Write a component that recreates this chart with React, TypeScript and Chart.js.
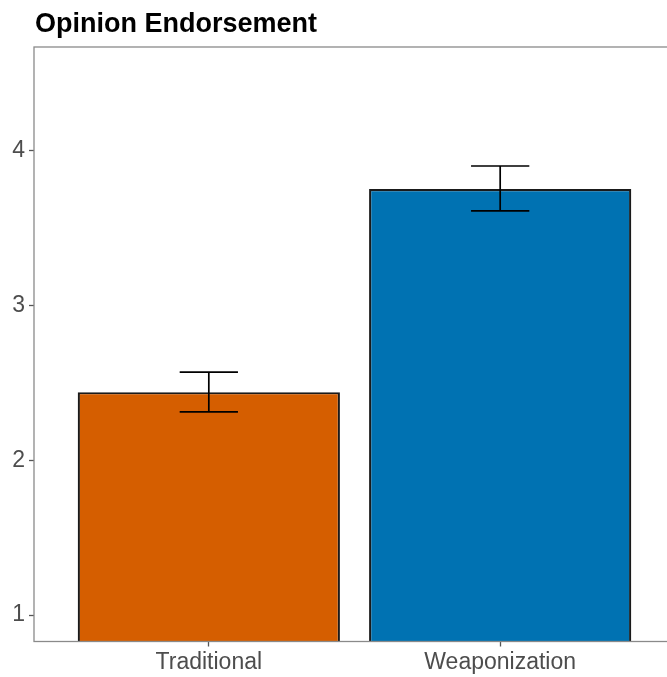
import React, { useEffect, useRef } from "react";
import { Chart, registerables } from "chart.js";

Chart.register(...registerables);

// Conditions, means and 95% interval bounds
const conditions = ["Traditional", "Weaponization"];
const means = [2.44, 3.753];
const errLow = [2.312, 3.611];
const errHigh = [2.57, 3.901];
const barColors = ["#D55E00", "#0072B2"];
const yTicks = [1, 2, 3, 4];

const TITLE = "Opinion Endorsement";
const FONT = "'Liberation Sans', Arial, Helvetica, sans-serif";

const errorBarPlugin = {
  id: "errorBars",
  afterDatasetsDraw(chart: any) {
    const { ctx, scales } = chart;
    const xs = scales.x;
    const ys = scales.y;
    ctx.save();
    ctx.strokeStyle = "#000000";
    ctx.lineWidth = 1.7;
    conditions.forEach((_, i) => {
      const cx = xs.getPixelForValue(i + 1);
      const x0 = xs.getPixelForValue(i + 1 - 0.1);
      const x1 = xs.getPixelForValue(i + 1 + 0.1);
      const yl = ys.getPixelForValue(errLow[i]);
      const yh = ys.getPixelForValue(errHigh[i]);
      ctx.beginPath();
      ctx.moveTo(cx, yl);
      ctx.lineTo(cx, yh);
      ctx.moveTo(x0, yl);
      ctx.lineTo(x1, yl);
      ctx.moveTo(x0, yh);
      ctx.lineTo(x1, yh);
      ctx.stroke();
    });
    ctx.restore();
  },
};

const panelPlugin = {
  id: "panelBorder",
  afterDraw(chart: any) {
    const { ctx, chartArea } = chart;
    ctx.save();
    ctx.strokeStyle = "#8a8a8a";
    ctx.lineWidth = 1.3;
    ctx.strokeRect(
      chartArea.left,
      chartArea.top,
      chartArea.right - chartArea.left,
      chartArea.bottom - chartArea.top
    );
    ctx.fillStyle = "#000000";
    ctx.font = `bold 27px ${FONT}`;
    ctx.textAlign = "left";
    ctx.textBaseline = "alphabetic";
    ctx.fillText(TITLE, 35, 32);
    ctx.restore();
  },
};

export default function App() {
  const canvasRef = useRef<HTMLCanvasElement | null>(null);

  useEffect(() => {
    const canvas = canvasRef.current;
    if (!canvas) return;
    const chart = new Chart(canvas, {
      type: "bar",
      data: {
        datasets: [
          {
            data: means.map((m, i) => ({ x: i + 1, y: m })),
            backgroundColor: barColors,
            borderColor: "#1a1a1a",
            borderWidth: 2.2,
            barPercentage: 0.9,
            categoryPercentage: 1,
          },
        ],
      },
      options: {
        responsive: false,
        animation: false,
        layout: { padding: { left: 0, right: 25, top: 47, bottom: 0 } },
        plugins: {
          legend: { display: false },
          tooltip: { enabled: false },
          title: { display: false },
        },
        scales: {
          x: {
            type: "linear",
            min: 0.4,
            max: 2.6,
            offset: false,
            afterBuildTicks(scale: any) {
              scale.ticks = conditions.map((_, i) => ({ value: i + 1 }));
            },
            afterFit(scale: any) {
              scale.height = 35.5;
            },
            border: { display: false },
            grid: {
              offset: false,
              drawOnChartArea: false,
              drawTicks: true,
              tickLength: 5,
              tickColor: "#555555",
              tickWidth: 1.3,
            },
            ticks: {
              autoSkip: false,
              maxRotation: 0,
              padding: 2,
              color: "#4d4d4d",
              font: { family: FONT, size: 23 },
              callback: (v: any) => conditions[Math.round(Number(v)) - 1] ?? "",
            },
          },
          y: {
            type: "linear",
            min: 0.829,
            max: 4.67,
            afterBuildTicks(scale: any) {
              scale.ticks = yTicks.map((v) => ({ value: v }));
            },
            afterFit(scale: any) {
              scale.width = 34;
            },
            border: { display: false },
            grid: {
              drawOnChartArea: false,
              drawTicks: true,
              tickLength: 5,
              tickColor: "#555555",
              tickWidth: 1.3,
            },
            ticks: {
              padding: 4,
              color: "#4d4d4d",
              font: { family: FONT, size: 23 },
              callback: (v: any) => String(v),
            },
          },
        },
      },
      plugins: [errorBarPlugin, panelPlugin],
    });
    return () => chart.destroy();
  }, []);

  return (
    <div
      style={{
        position: "fixed",
        left: 0,
        top: 0,
        width: 667,
        height: 677,
        overflow: "hidden",
        background: "#ffffff",
      }}
    >
      <canvas ref={canvasRef} width={700} height={677} style={{ display: "block" }} />
    </div>
  );
}
